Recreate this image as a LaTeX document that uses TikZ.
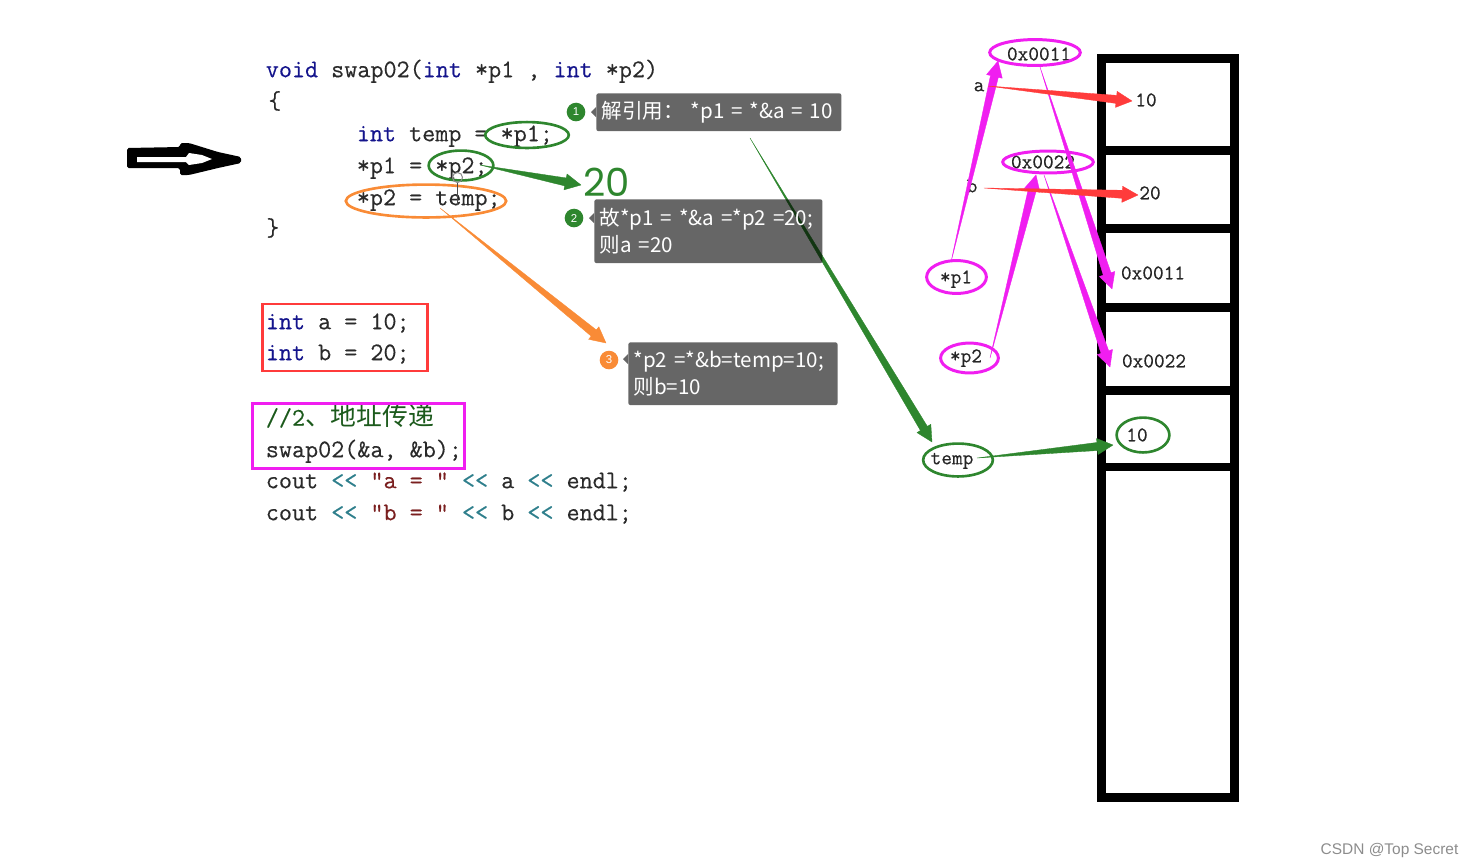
\documentclass[tikz,border=0pt]{standalone}
\usepackage{fontspec}
\usetikzlibrary{calc,shapes.geometric}
\newfontfamily\cjk{Noto Sans CJK SC}
\newfontfamily\handfont{Poppins}
\newfontfamily\markfont{Liberation Sans}
\newfontfamily\codefont[FakeBold=0.35]{Latin Modern Mono}
\definecolor{kwblue}{HTML}{14148C}
\definecolor{codegray}{HTML}{2A2A2A}
\definecolor{opteal}{HTML}{2F7F8C}
\definecolor{strred}{HTML}{7A1F1F}
\definecolor{cmtgreen}{HTML}{1C5A1C}
\definecolor{markgreen}{HTML}{2E862E}
\definecolor{markorange}{HTML}{F98B36}
\definecolor{markpink}{HTML}{F01EF0}
\definecolor{markred}{HTML}{FF3B3B}
\newcommand{\codekw}[1]{\textcolor{kwblue}{#1}}
\newcommand{\codeop}{\textcolor{opteal}{<{}<}}
\newcommand{\codestr}[1]{\textcolor{strred}{#1}}
% thin at the start, thick at the neck, then a triangular head
\newcommand{\taperarrow}[3]{%
  \coordinate (neck) at ($(#3)!9pt!(#2)$);
  \draw[#1, fill=#1, line width=0.2pt, line join=round] (#2)
    -- ($(neck)!2.3pt!90:(#3)$) -- ($(neck)!4.6pt!90:(#3)$) -- (#3)
    -- ($(neck)!4.6pt!-90:(#3)$) -- ($(neck)!2.3pt!-90:(#3)$) -- cycle;
}
\tikzset{
  codeline/.style={anchor=west, inner sep=0, text height=9pt, text depth=2.5pt, text=codegray,
    font=\fontsize{14.45}{16}\selectfont\codefont},
  memtext/.style={inner sep=0, text=black!85, text height=7.5pt, text depth=1.5pt,
    font=\fontsize{11.8}{14}\selectfont\codefont},
  ring/.style={ellipse, draw, inner sep=0, line width=1.5pt},
  tipbox/.style={rounded corners=1.2pt, fill=black, fill opacity=0.6, text opacity=1, text=white,
    anchor=north west, inner sep=0, align=left, font=\fontsize{11.7}{15.3}\selectfont\cjk},
  tipmark/.style={circle, inner sep=0, minimum size=10.6pt, text=white, font=\fontsize{6.5}{7}\selectfont\markfont},
  tipdart/.style={fill=black, fill opacity=0.6},
}
\begin{document}
\begin{tikzpicture}[x=0.02cm,y=-0.02cm]
\useasboundingbox (0,0) rectangle (1473,867);

% Hollow arrow on the left
\fill[black, rounded corners=1pt] (127,148) -- (180,147) -- (180,143) -- (189,143) -- (218,152) -- (241,157)
  -- (241,163) -- (218,168) -- (189,175) -- (180,175) -- (180,168) -- (127,168) -- cycle;
\fill[white] (137,157) -- (186,157) -- (189,153) -- (202,155) -- (212,159) -- (202,163) -- (189,165) -- (186,162) -- (137,162) -- cycle;

% Code at the top
\node[codeline] (sig) at (265.5,71.5) {\codekw{void} swap02(\codekw{int} *p1 , \codekw{int} *p2)};
\node[codeline] (open) at (268,103) {\{};
\node[codeline] (tmp) at (356.5,135.5) {\codekw{int} temp = *p1;};
\node[codeline] (asg1) at (356.5,167.5) {*p1 = *p2;};
\node[codeline] (asg2) at (356.5,199.5) {*p2 = temp;};
\node[codeline] (close) at (266,230) {\}};

% Code at the bottom
\node[codeline] (inta) at (265.5,323.5) {\codekw{int} a = 10;};
\node[codeline] (intb) at (265.5,354.5) {\codekw{int} b = 20;};
\node[codeline, text=cmtgreen] (cmt) at (265.5,420) {//2{\cjk\fontsize{14.7}{16}\selectfont 、地址传递}};
\node[codeline] (call) at (265.5,451.5) {swap02(\&a, \&b);};
\node[codeline] (cout1) at (265.5,482.5) {cout \codeop{} \codestr{"a = "} \codeop{} a \codeop{} endl;};
\node[codeline] (cout2) at (265.5,514.5) {cout \codeop{} \codestr{"b = "} \codeop{} b \codeop{} endl;};

% Boxes and rings on the code
\node[draw=markred, line width=1.5pt, minimum width=166*0.567pt, minimum height=67*0.567pt, inner sep=0] (boxab) at (345,337.5) {};
\node[draw=markpink, line width=1.7pt, minimum width=213*0.567pt, minimum height=66*0.567pt, inner sep=0] (boxcall) at (358.5,436) {};
\node[ring, markgreen, minimum width=84*0.567pt, minimum height=26*0.567pt] (ringa) at (527,135) {};
\node[ring, markgreen, minimum width=65*0.567pt, minimum height=30*0.567pt] (ringb) at (461,165.5) {};
\node[ring, markorange, minimum width=161*0.567pt, minimum height=33*0.567pt] (ringc) at (426,201) {};

% Mouse cursor over the code
\draw[black!45, line width=0.6pt] (457.5,177.5) circle (5);
\draw[black!70, line width=0.6pt] (457.5,183) -- (457.5,205);

% Memory column
\draw[black, line width=9*0.567pt] (1101.5,58.5) rectangle (1234.5,797.5);
\foreach \ycell in {150.5,228.5,307.5,390.5,467} {
  \draw[black, line width=9*0.567pt] (1101.5,\ycell) -- (1234.5,\ycell);
}
\node[memtext] (mema) at (1146,101) {10};
\node[memtext] (memb) at (1150,194) {20};
\node[memtext] (memp) at (1153,274) {0x0011};
\node[memtext] (memq) at (1154,362) {0x0022};
\node[memtext] (memt) at (1137,436) {10};

% Labels and rings beside the column
\node[memtext] (addra) at (1039,55) {0x0011};
\node[memtext] (addrb) at (1043,163) {0x0022};
\node[memtext] (vara) at (979,86) {a};
\node[memtext] (varb) at (972,187) {b};
\node[memtext] (ptra) at (956,278) {*p1};
\node[memtext] (ptrb) at (966,357) {*p2};
\node[memtext] (vart) at (952,459) {temp};
\node[ring, markpink, line width=1.7pt, minimum width=91*0.567pt, minimum height=26*0.567pt] (ringaddra) at (1035,52.5) {};
\node[ring, markpink, line width=1.7pt, minimum width=91*0.567pt, minimum height=22*0.567pt] (ringaddrb) at (1048,162) {};
\node[ring, markpink, line width=1.7pt, minimum width=60*0.567pt, minimum height=33*0.567pt] (ringptra) at (956.5,277) {};
\node[ring, markpink, line width=1.7pt, minimum width=58*0.567pt, minimum height=30*0.567pt] (ringptrb) at (969.5,358) {};
\node[ring, markgreen, minimum width=70*0.567pt, minimum height=33*0.567pt] (ringtemp) at (958,460) {};
\node[ring, markgreen, minimum width=53*0.567pt, minimum height=35*0.567pt] (ringmem) at (1143,435) {};

% Free ends of the arrows
\coordinate (ptratail) at (951,262);
\coordinate (ptrahead) at (998,61);
\coordinate (ptrbtail) at (990,358);
\coordinate (ptrbhead) at (1036,175);
\coordinate (addratail) at (1040,67);
\coordinate (addrahead) at (1112,289);
\coordinate (addrbtail) at (1044,175);
\coordinate (addrbhead) at (1110,367);
\coordinate (varatail) at (988,86);
\coordinate (varahead) at (1132,101);
\coordinate (varbtail) at (984,188);
\coordinate (varbhead) at (1138,195);
\coordinate (temptail) at (977,458);
\coordinate (temphead) at (1113,445);
\coordinate (tiptail) at (750,138);
\coordinate (tiphead) at (932,442);
\coordinate (codetail) at (480,165);
\coordinate (codehead) at (581,185);
\coordinate (swaptail) at (440,208);
\coordinate (swaphead) at (606,343);

% Arrows
\taperarrow{markpink}{ptratail}{ptrahead}
\taperarrow{markpink}{ptrbtail}{ptrbhead}
\taperarrow{markpink}{addratail}{addrahead}
\taperarrow{markpink}{addrbtail}{addrbhead}
\taperarrow{markred}{varatail}{varahead}
\taperarrow{markred}{varbtail}{varbhead}
\taperarrow{markgreen}{temptail}{temphead}
\taperarrow{markgreen}{tiptail}{tiphead}
\taperarrow{markgreen}{codetail}{codehead}
\taperarrow{markorange}{swaptail}{swaphead}

% Handwritten result
\node[text=markgreen, inner sep=0, font=\fontsize{22}{26}\selectfont\handfont] (hand) at (607,182) {20};

% Grey notes with their numbers
\node[tipbox, minimum width=246*0.567pt, minimum height=38*0.567pt, text width=246*0.567pt] (note1) at (596,93) {\hspace*{3pt}\mbox{解引用：\ *p1 = *\&a = 10}};
\node[tipbox, minimum width=229*0.567pt, minimum height=64*0.567pt, text width=229*0.567pt] (note2) at (594,199) {\hspace*{3pt}故*p1 = *\&a =*p2 =20;\\\hspace*{3pt}则a =20};
\node[tipbox, minimum width=210*0.567pt, minimum height=63*0.567pt, text width=210*0.567pt] (note3) at (628,342) {\hspace*{3pt}*p2 =*\&b=temp=10;\\\hspace*{3pt}则b=10};
\fill[tipdart] (596,107) -- (591,112) -- (596,117) -- cycle;
\fill[tipdart] (594,213) -- (589,218) -- (594,223) -- cycle;
\fill[tipdart] (628,354) -- (623,359) -- (628,364) -- cycle;
\node[tipmark, fill=markgreen] (num1) at (576,112) {1};
\node[tipmark, fill=markgreen] (num2) at (574,218) {2};
\node[tipmark, fill=markorange] (num3) at (609,360) {3};

% Watermark
\node[text=black!45, inner sep=0, font=\fontsize{8.8}{11}\selectfont\markfont] (mark) at (1389.5,850) {CSDN @Top Secret};
\end{tikzpicture}
\end{document}
